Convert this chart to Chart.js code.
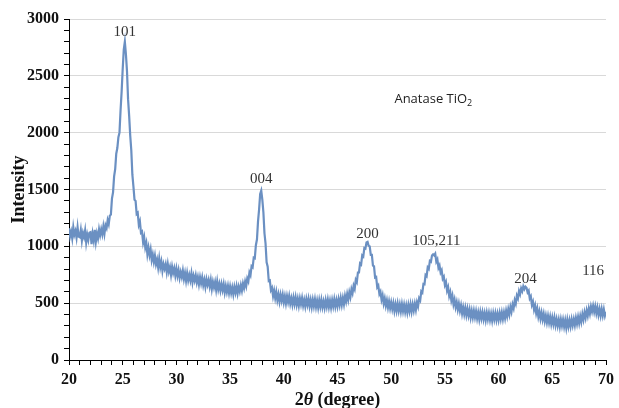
<!DOCTYPE html>
<html>
<head>
<meta charset="utf-8">
<script src="https://cdn.jsdelivr.net/npm/chart.js@4.4.1/dist/chart.umd.min.js"></script>
<style>
  html, body { margin: 0; padding: 0; background: #fff; }
  #wrap { width: 619px; height: 408px; }
</style>
</head>
<body>
<div id="wrap"><canvas id="chart" width="619" height="408"></canvas></div>
<script>
// ── Données XRD (lecture du graphique, pas de 0.1° de 20 à 70°) ──
const ANGLE_START = 20;
const ANGLE_STEP  = 0.1;

const intensity = [
  1160,1088,1130,1070,1168,1102,1135,1075,1168,1086,   // 20
  1080,1143,1050,1118,1081,1140,1034,1102,1056,1120,   // 21
  1125,1020,1110,1052,1144,1041,1113,1070,1149,1098,   // 22
  1150,1105,1175,1110,1185,1160,1230,1195,1270,1280,   // 23
  1420,1475,1615,1680,1815,1865,1960,2000,2195,2360,   // 24
  2560,2730,2800,2690,2540,2295,2150,1975,1845,1630,   // 25
  1525,1410,1400,1285,1295,1190,1220,1120,1130,1035,   // 26
  1080, 990,1030, 930, 988, 922, 973, 880, 928, 862,   // 27
   917, 842, 883, 815, 893, 816, 865, 784, 843, 803,   // 28
   843, 773, 843, 778, 818, 749, 820, 766, 807, 743,   // 29
   804, 740, 791, 722, 773, 729, 786, 713, 765, 697,   // 30
   764, 701, 748, 700, 762, 684, 741, 698, 745, 682,   // 31
   729, 666, 728, 675, 727, 659, 706, 643, 710, 662,   // 32
   704, 646, 703, 625, 687, 639, 686, 618, 690, 622,   // 33
   669, 611, 668, 615, 667, 594, 651, 598, 651, 589,   // 34
   647, 590, 639, 578, 643, 593, 649, 586, 644, 603,   // 35
   658, 610, 673, 633, 690, 650, 717, 692, 770, 746,   // 36
   825, 815, 900, 895,1010,1060,1220,1325,1460,1490,   // 37
  1410,1300,1115,1025, 860, 820, 695, 700, 615, 635,   // 38
   562, 610, 545, 598, 527, 577, 513, 575, 522, 575,   // 39
   508, 561, 499, 562, 510, 563, 496, 544, 487, 550,   // 40
   493, 551, 485, 539, 478, 542, 491, 545, 479, 528,   // 41
   472, 536, 485, 539, 473, 527, 466, 530, 474, 533,   // 42
   467, 522, 461, 526, 470, 530, 465, 515, 460, 525,   // 43
   470, 530, 466, 521, 462, 527, 473, 534, 470, 526,   // 44
   473, 535, 483, 546, 485, 545, 491, 563, 516, 580,   // 45
   530, 595, 553, 622, 588, 653, 625, 705, 685, 770,   // 46
   770, 850, 840, 920, 910, 985, 980,1035,1040,1005,   // 47
  1000, 925, 925, 830, 825, 725, 730, 640, 655, 580,   // 48
   601, 531, 570, 497, 541, 477, 524, 462, 516, 456,   // 49
   507, 448, 500, 432, 490, 433, 496, 434, 488, 427,   // 50
   491, 430, 485, 424, 479, 419, 484, 429, 490, 426,   // 51
   488, 436, 495, 442, 507, 472, 543, 525, 603, 592,   // 52
   668, 665, 747, 737, 815, 802, 872, 865, 920, 930,   // 53
   920, 935, 865, 885, 810, 832, 770, 790, 715, 732,   // 54
   660, 685, 610, 640, 563, 598, 525, 565, 490, 532,   // 55
   465, 509, 444, 495, 432, 480, 409, 463, 403, 458,   // 56
   394, 450, 391, 443, 375, 432, 374, 432, 375, 428,   // 57
   366, 419, 357, 421, 365, 419, 358, 412, 351, 415,   // 58
   359, 413, 353, 407, 347, 412, 357, 412, 352, 407,   // 59
   353, 414, 361, 418, 361, 419, 368, 433, 384, 446,   // 60
   400, 466, 424, 489, 456, 525, 495, 566, 542, 607,   // 61
   578, 630, 605, 648, 623, 645, 635, 595, 610, 542,   // 62
   560, 485, 513, 443, 480, 410, 452, 381, 427, 364,   // 63
   417, 356, 405, 340, 390, 331, 387, 328, 380, 317,   // 64
   374, 316, 373, 306, 359, 302, 355, 293, 357, 301,   // 65
   355, 294, 349, 283, 353, 294, 350, 296, 358, 305,   // 66
   358, 306, 370, 319, 379, 324, 385, 336, 403, 355,   // 67
   418, 371, 435, 389, 453, 407, 470, 427, 477, 423,   // 68
   472, 411, 461, 397, 448, 390, 448, 391, 445, 389,   // 69
   425                                                 // 70
];
const angles = intensity.map((_, i) => +(ANGLE_START + i * ANGLE_STEP).toFixed(1));

// ── Indexation des pics (hkl) ──
const peakLabels     = ['101', '004', '200', '105,211', '204', '116'];
const peakAngles     = [25.2, 37.9, 47.8, 54.2, 62.5, 68.8];
const peakLabelLevel = [2885, 1595, 1110, 1050, 715, 785];

// ── Axes ──
const X_MIN = 20, X_MAX = 70;
const Y_MIN = 0,  Y_MAX = 3000;

const SERIF = "'Liberation Serif', 'Times New Roman', serif";

// ── Textes dessinés sur le canvas (titres, pics, légende) ──
const textePlugin = {
  id: 'textes',
  afterDraw(chart) {
    const c  = chart.ctx;
    const xs = chart.scales.x;
    const ys = chart.scales.y;
    c.save();

    // étiquettes des pics
    c.fillStyle = '#333';
    c.font = '15px ' + SERIF;
    c.textAlign = 'center';
    c.textBaseline = 'middle';
    peakLabels.forEach((lbl, i) => {
      c.fillText(lbl, xs.getPixelForValue(peakAngles[i]), ys.getPixelForValue(peakLabelLevel[i]));
    });

    // Anatase TiO2
    c.fillStyle = '#222';
    c.textAlign = 'left';
    c.textBaseline = 'alphabetic';
    c.font = "13px 'Open Sans', sans-serif";
    const ax = xs.getPixelForValue(50.3);
    const ay = ys.getPixelForValue(2260);
    c.fillText('Anatase TiO', ax, ay);
    const w = c.measureText('Anatase TiO').width;
    c.font = "9px 'Open Sans', sans-serif";
    c.fillText('2', ax + w, ay + 3);

    // titre axe X : 2θ (degree)
    c.fillStyle = '#111';
    const parts = [
      { t: '2',         f: 'bold 18px ' + SERIF },
      { t: 'θ',         f: 'italic bold 18px ' + SERIF },
      { t: ' (degree)', f: 'bold 18px ' + SERIF }
    ];
    let total = 0;
    parts.forEach(p => { c.font = p.f; p.w = c.measureText(p.t).width; total += p.w; });
    let px = (chart.chartArea.left + chart.chartArea.right) / 2 - total / 2;
    parts.forEach(p => { c.font = p.f; c.fillText(p.t, px, 405); px += p.w; });

    // titre axe Y
    c.translate(24, (chart.chartArea.top + chart.chartArea.bottom) / 2);
    c.rotate(-Math.PI / 2);
    c.textAlign = 'center';
    c.font = 'bold 18px ' + SERIF;
    c.fillText('Intensity', 0, 0);
    c.restore();
  }
};

// ── Graphique ──
const ctx   = document.getElementById('chart').getContext('2d');
const chart = new Chart(ctx, {
  type: 'line',
  data: {
    datasets: [{
      data       : angles.map((a, i) => ({ x: a, y: intensity[i] })),
      borderColor: '#6b90c2',
      borderWidth: 2.2,
      pointRadius: 0,
      tension    : 0,
      fill       : false
    }]
  },
  options: {
    responsive: false,
    animation : false,
    layout    : { padding: { left: 0, right: 12, top: 19, bottom: 0 } },
    plugins   : { legend: { display: false }, tooltip: { enabled: false } },
    scales: {
      x: {
        type: 'linear',
        min : X_MIN,
        max : X_MAX,
        afterFit: s => { s.height = 48; },
        border: { color: '#000', width: 1 },
        grid  : { color: 'rgba(0,0,0,0)', tickColor: '#000', tickLength: 5, drawOnChartArea: false },
        ticks : {
          stepSize   : 1,
          autoSkip   : false,
          maxRotation: 0,
          padding    : 5,
          color      : '#111',
          font       : { family: SERIF, size: 16, weight: 'bold' },
          callback   : v => (v % 5 === 0 ? v : '')
        }
      },
      y: {
        min : Y_MIN,
        max : Y_MAX,
        afterFit: s => { s.width = 69; },
        border: { color: '#000', width: 1 },
        grid  : {
          color     : c => (c.tick && c.tick.value % 500 === 0 && c.tick.value > 0 ? '#d9d9d9' : 'rgba(0,0,0,0)'),
          tickColor : '#000',
          tickLength: 5
        },
        ticks : {
          stepSize: 100,
          autoSkip: false,
          padding : 5,
          color   : '#111',
          font    : { family: SERIF, size: 16, weight: 'bold' },
          callback: v => (v % 500 === 0 ? v : '')
        }
      }
    }
  },
  plugins: [textePlugin]
});
</script>
</body>
</html>
